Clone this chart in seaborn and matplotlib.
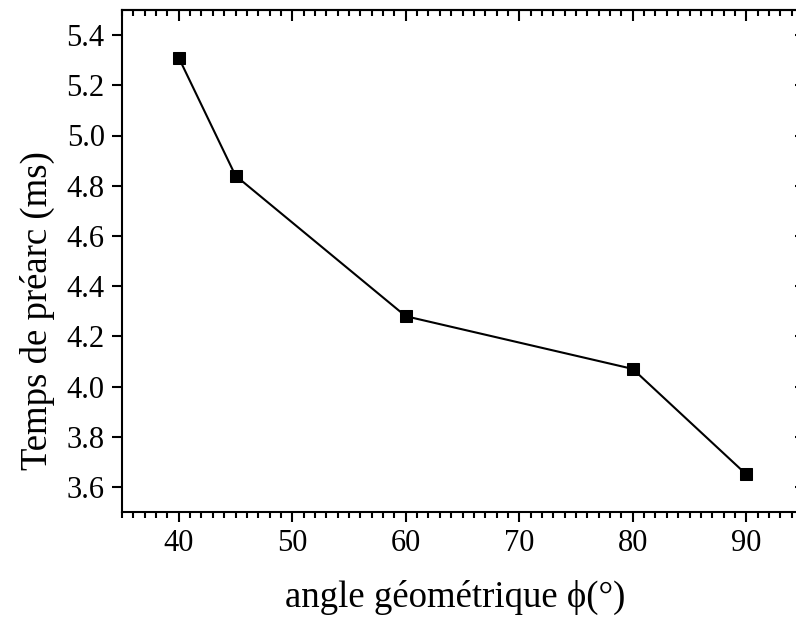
import matplotlib
matplotlib.use("Agg")
import matplotlib.pyplot as plt
import seaborn as sns
import pandas as pd
from matplotlib.ticker import MultipleLocator

angles = [40, 45, 60, 80, 90]
temps = [5.31, 4.84, 4.28, 4.07, 3.65]
xticks = [40, 50, 60, 70, 80, 90]
yticks = [3.6, 3.8, 4.0, 4.2, 4.4, 4.6, 4.8, 5.0, 5.2, 5.4]
xlabel = "angle géométrique ϕ(°)"
ylabel = "Temps de préarc (ms)"

sns.set_style("white")
plt.rcParams['font.family'] = ['Liberation Serif', 'DejaVu Serif']
plt.rcParams['text.color'] = 'black'
plt.rcParams['axes.labelcolor'] = 'black'
plt.rcParams['xtick.color'] = 'black'
plt.rcParams['ytick.color'] = 'black'

df = pd.DataFrame({"angle": angles, "temps": temps})

fig = plt.figure(figsize=(7.96, 6.24), dpi=100)
ax = fig.add_axes([122/796, 112/624, (803-122)/796, (512-10)/624])
sns.lineplot(data=df, x="angle", y="temps", ax=ax, color="black", lw=1.5,
             marker="s", markersize=8, markeredgecolor="black", markerfacecolor="black")

ax.set_xlim(35, 95)
ax.set_ylim(3.5, 5.5)
ax.set_xticks(xticks)
ax.set_xticklabels([str(v) for v in xticks])
ax.set_yticks(yticks)
ax.set_yticklabels([f"{v:.1f}" for v in yticks])
ax.xaxis.set_minor_locator(MultipleLocator(1))

for s in ax.spines.values():
    s.set_visible(True)
    s.set_linewidth(1.5)
    s.set_color("black")

ax.tick_params(axis='x', which='major', direction='out', length=7.5, width=1.5,
               labelsize=22, pad=5, bottom=True, top=False, labelcolor='black')
ax.tick_params(axis='x', which='minor', direction='out', length=4.5, width=1.5,
               bottom=True, top=False)
ax.tick_params(axis='y', which='major', direction='out', length=7.5, width=1.5,
               labelsize=22, pad=5, left=True, right=False, labelcolor='black')
ax.tick_params(axis='y', which='minor', left=False, right=False)

top = ax.secondary_xaxis('top')
top.set_xticks(xticks)
top.xaxis.set_minor_locator(MultipleLocator(1))
top.tick_params(which='major', direction='in', length=8, width=1.5, labeltop=False)
top.tick_params(which='minor', direction='in', length=4.5, width=1.5)
top.spines['top'].set_linewidth(1.5)

right = ax.secondary_yaxis('right')
right.set_yticks(yticks)
right.tick_params(which='major', direction='in', length=6, width=1.5, labelright=False)
right.tick_params(which='minor', right=False)
right.spines['right'].set_linewidth(1.5)

ax.set_xlabel(xlabel, fontsize=26.5, labelpad=15, color='black')
ax.set_ylabel(ylabel, fontsize=26.5, labelpad=8, color='black')
ax.xaxis.set_label_coords(0.489, -0.135)
ax.yaxis.label.set_y(0.402)

fig.savefig("out.png", dpi=100)
